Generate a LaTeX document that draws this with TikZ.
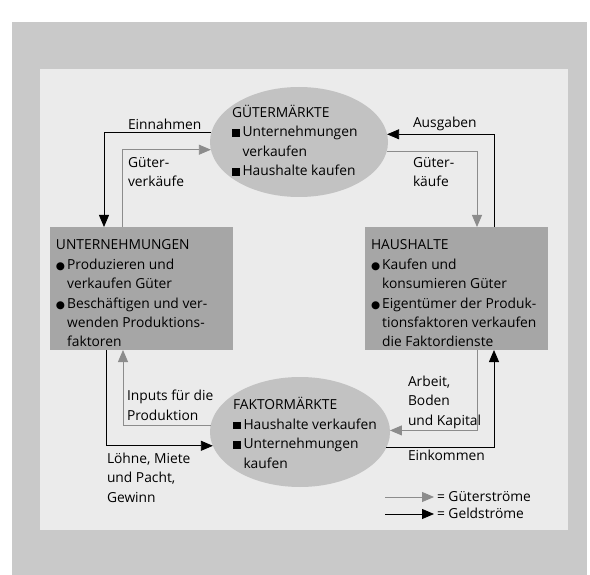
\documentclass[tikz,border=0pt]{standalone}
\usepackage{fontspec}
\setmainfont{Open Sans}
\newfontfamily\symf{DejaVu Sans}
\usetikzlibrary{arrows.meta,shapes.geometric,calc}
\definecolor{bandgrey}{gray}{0.79}
\definecolor{panelgrey}{gray}{0.92}
\definecolor{ellgrey}{gray}{0.76}
\definecolor{boxgrey}{gray}{0.65}
\definecolor{goodsgrey}{gray}{0.55}
\newcommand{\sqb}{\rule{7.5pt}{7.5pt}\hspace{3pt}}
\newcommand{\blt}{{\symf\fontsize{10.5}{10}\selectfont ●}\hspace{2pt}}
\tikzset{
  lab/.style={anchor=base west, inner sep=0pt, outer sep=0pt, align=left,
    font=\fontsize{13.8}{19.5}\selectfont},
  tip/.style={-{Triangle[length=12pt,width=10pt]}},
  money/.style={draw=black, line width=0.8pt, tip},
  goods/.style={draw=goodsgrey, line width=0.8pt, tip},
  market/.style={ellipse, fill=ellgrey, inner sep=0pt, outer sep=0pt},
  sector/.style={rectangle, fill=boxgrey, anchor=north west, inner sep=0pt,
    outer sep=0pt, minimum width=183pt, minimum height=123pt}
}
\begin{document}
\begin{tikzpicture}[x=1pt,y=-1pt]
\useasboundingbox (0,0) rectangle (590,575);
\fill[white] (0,0) rectangle (590,575);
\fill[bandgrey] (12,22) rectangle (587,575);
\fill[panelgrey] (40,69) rectangle (568,530);

\node[market, minimum width=178pt, minimum height=110pt] (gm) at (299,142) {};
\node[market, minimum width=180pt, minimum height=110pt] (fm) at (300,432) {};
\node[sector] (un) at (50,227) {};
\node[sector] (hh) at (365,227) {};

% multi-line nodes: base = baseline of the last line
\node[lab] (gmt) at (232,176) {GÜTERMÄRKTE\\ \sqb Unternehmungen\\ \phantom{\sqb}verkaufen\\ \sqb Haushalte kaufen};
\node[lab] (fmt) at (233,468) {FAKTORMÄRKTE\\ \sqb Haushalte verkaufen\\ \sqb Unternehmungen\\ \phantom{\sqb}kaufen};
\node[lab] (unt) at (56,347) {UNTERNEHMUNGEN\\ \blt Produzieren und\\ \phantom{\blt}verkaufen Güter\\ \blt Beschäftigen und ver-\\ \phantom{\blt}wenden Produktions-\\ \phantom{\blt}faktoren};
\node[lab] (hht) at (371,347) {HAUSHALTE\\ \blt Kaufen und\\ \phantom{\blt}konsumieren Güter\\ \blt Eigentümer der Produk-\\ \phantom{\blt}tionsfaktoren verkaufen\\ \phantom{\blt}die Faktordienste};

\node[lab] (l1) at (128,129.5) {Einnahmen};
\node[lab] (l2) at (413,127.5) {Ausgaben};
\node[lab] (l3) at (128,187) {Güter-\\verkäufe};
\node[lab] (l4) at (413,187) {Güter-\\käufe};
\node[lab] (l5) at (127,420) {Inputs für die\\Produktion};
\node[lab] (l6) at (107,502) {Löhne, Miete\\und Pacht,\\Gewinn};
\node[lab] (l7) at (408,425) {Arbeit,\\Boden\\und Kapital};
\node[lab] (l8) at (408,460) {Einkommen};

\draw[money] (gm.174.8) -| ([xshift=54pt]un.north west);
\draw[goods] ([xshift=72pt]un.north west) |- (gm.185.9);
\draw[money] ([xshift=129pt]hh.north west) |- (gm.5.85);
\draw[goods] (gm.354.8) -| ([xshift=112pt]hh.north west);
\draw[goods] (fm.176.8) -| ([xshift=73pt]un.south west);
\draw[money] ([xshift=56pt]un.south west) |- (fm.189.1);
\draw[goods] ([xshift=112pt]hh.south west) |- (fm.1.9);
\draw[money] (fm.350.9) -| ([xshift=129pt]hh.south west);

\node[lab] (lg1) at (437,501.5) {= Güterströme};
\node[lab] (lg2) at (437,518.5) {= Geldströme};
\coordinate (lg1s) at (385,497);
\coordinate (lg2s) at (385,514);
\draw[goods] (lg1s) -- ($(lg1.west |- lg1s)+(-3,0)$);
\draw[money] (lg2s) -- ($(lg2.west |- lg2s)+(-3,0)$);
\end{tikzpicture}
\end{document}
